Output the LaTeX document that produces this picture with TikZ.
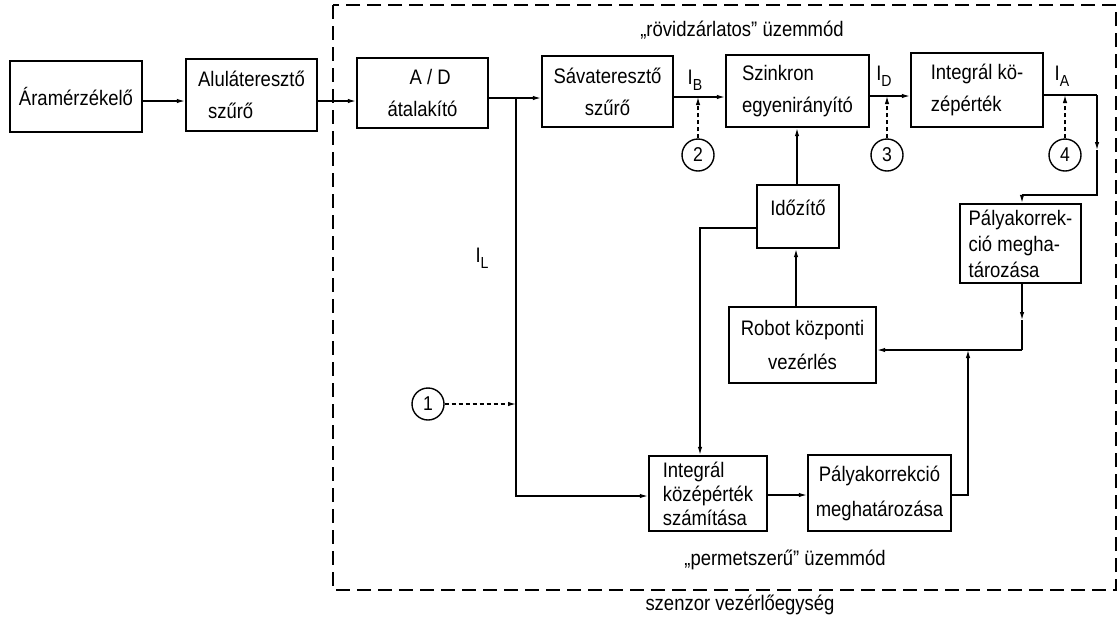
\documentclass[tikz,border=0pt]{standalone}
\usepackage{fontspec}
\setmainfont{Liberation Sans}[FakeStretch=0.88]
\usetikzlibrary{arrows.meta}
\newcommand\Isub[1]{I\raisebox{-6pt}{\fontsize{16}{16}\selectfont #1}}
\begin{document}
\begin{tikzpicture}[x=1pt,y=-1pt,
  box/.style={draw,line width=2.4pt,inner sep=0pt,font=\fontsize{21}{32}\selectfont},
  conn/.style={line width=1.2pt,-{Latex[length=8pt,width=4.5pt]}},
  wire/.style={line width=1.2pt},
  probe/.style={draw,circle,line width=1.4pt,minimum size=32pt,inner sep=0pt,font=\fontsize{20}{20}\selectfont},
  dasharr/.style={line width=1.2pt,dash pattern=on 4pt off 3pt,-{Latex[length=8pt,width=4.5pt]}},
  lbl/.style={font=\fontsize{21}{24}\selectfont,inner sep=0pt},
  frame/.style={line width=1.5pt,dash pattern=on 14pt off 7pt},
]
\useasboundingbox[fill=white] (0,0) rectangle (1119,630);

% outer dashed frame
\draw[frame] (333,5) rectangle (1116,590);

% boxes
\node[box,minimum width=132pt,minimum height=71pt] (aram) at (76,96.5) {Áramérzékelő};
\node[box,minimum width=131pt,minimum height=72pt,align=left] (alul) at (251.5,95) {Aluláteresztő\\\hspace{10pt}szűrő};
\node[box,minimum width=131pt,minimum height=70pt,align=left] (ad) at (422.5,93) {\hspace{22pt}A / D\\átalakító};
\node[box,minimum width=131pt,minimum height=71pt,align=center] (sav) at (607.5,91.5) {Sávateresztő\\szűrő};
\node[box,minimum width=143pt,minimum height=72pt,align=left] (szink) at (797.5,91) {Szinkron\hspace{30pt}\\egyenirányító};
\node[box,minimum width=132pt,minimum height=74pt,align=left] (intk) at (977,90) {Integrál kö-\\zépérték};
\node[box,minimum width=82pt,minimum height=63pt,text depth=18pt] (idoz) at (798,216.5) {Időzítő};
\node[box,minimum width=121pt,minimum height=79pt,align=left,font=\fontsize{21}{26}\selectfont] (palyaR) at (1020.5,243.5) {Pályakorrek-\\ció megha-\\tározása};
\node[box,minimum width=147pt,minimum height=76pt,align=center,font=\fontsize{21}{34}\selectfont] (robot) at (802.5,345) {Robot központi\\vezérlés};
\node[box,minimum width=118pt,minimum height=75pt,align=left,font=\fontsize{21}{24}\selectfont] (intsz) at (708,493.5) {Integrál\\középérték\\számítása};
\node[box,minimum width=143pt,minimum height=76pt,align=center,font=\fontsize{21}{35}\selectfont] (palyaB) at (879.5,493) {Pályakorrekció\\meghatározása};

% probe circles
\node[probe] (p1) at (428,404) {1};
\node[probe] (p2) at (698,155) {2};
\node[probe] (p3) at (887,155) {3};
\node[probe] (p4) at (1065,155) {4};

% labels
\node[lbl] (lB) at (695,80) {\Isub{B}};
\node[lbl] (lD) at (884,76) {\Isub{D}};
\node[lbl] (lA) at (1062,76) {\Isub{A}};
\node[lbl] (lL) at (482,258) {\Isub{L}};
\node[lbl] (mode1) at (742,30) {„rövidzárlatos” üzemmód};
\node[lbl] (mode2) at (785,560) {„permetszerű” üzemmód};
\node[lbl] (unit) at (740,605) {szenzor vezérlőegység};

% coordinates
\coordinate (J1) at (516,98);
\coordinate (J1b) at (516,496);
\coordinate (J2) at (516,404);
\coordinate (B) at (698,97);
\coordinate (D) at (887,96);
\coordinate (A) at (1065,95);
\coordinate (R1) at (1097,95);
\coordinate (R2) at (1097,150);
\coordinate (R3) at (1097,195);
\coordinate (R4) at (1022,195);
\coordinate (S1) at (1022,320);
\coordinate (S2) at (1022,350);
\coordinate (T1) at (968,495);
\coordinate (T2) at (968,350);
\coordinate (U1) at (700,228);

% connectors
\draw[conn] (aram.east |- 0,101) -- (alul.west |- 0,101);
\draw[conn] (alul.east |- 0,101) -- (ad.west |- 0,101);
\draw[conn] (ad.east |- J1) -- (sav.west |- J1);
\draw[conn] (J1) -- (J1b) -- (intsz.west |- J1b);
\draw[conn] (sav.east |- B) -- (szink.west |- B);
\draw[conn] (szink.east |- D) -- (intk.west |- D);
\draw[wire] (intk.east |- R1) -- (R1);
\draw[conn] (R1) -- (R2);
\draw[wire] (R2) -- (R3) -- (R4);
\draw[conn] (R4) -- (palyaR.north -| R4);
\draw[conn] (palyaR.south -| S1) -- (S1);
\draw[wire] (S1) -- (S2);
\draw[conn] (S2) -- (robot.east |- S2);
\draw[conn] (T1 -| palyaB.east) -- (T1) -- (T2);
\draw[conn] (robot.north -| 796,0) -- (idoz.south -| 796,0);
\draw[conn] (idoz.north -| 797,0) -- (szink.south -| 797,0);
\draw[conn] (idoz.west |- U1) -- (U1) -- (intsz.north -| U1);
\draw[conn] (intsz.east |- 0,495) -- (palyaB.west |- 0,495);

% probe connectors
\draw[dasharr] (p1.east) -- (J2);
\draw[dasharr] (p2.north) -- (B);
\draw[dasharr] (p3.north) -- (D);
\draw[dasharr] (p4.north) -- (A);
\end{tikzpicture}
\end{document}
